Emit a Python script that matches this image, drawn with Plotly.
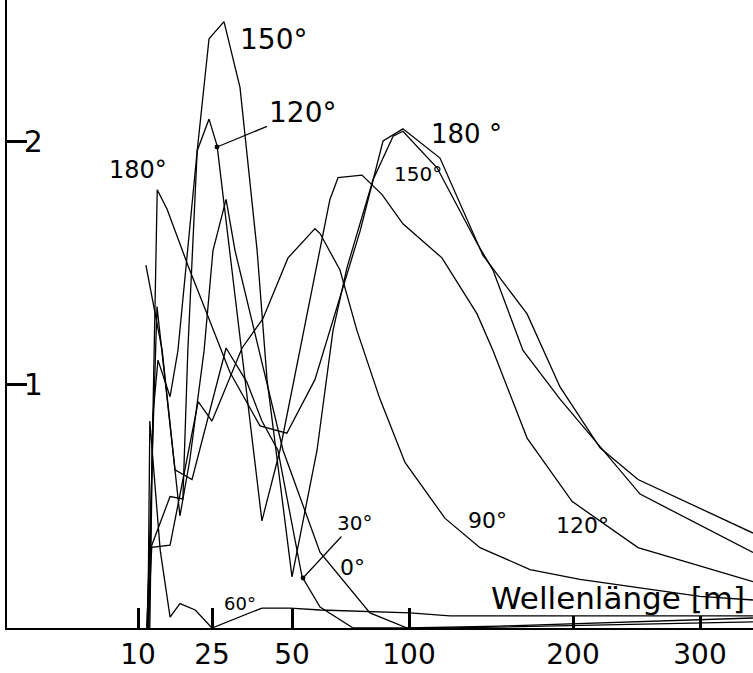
import numpy as np
import plotly.graph_objects as go

# ---- hand-drawn, non-uniform wavelength scale (labelled ticks) ----
TICK_WL = [10, 25, 50, 100, 200, 300]
TICK_TEXT = ["10", "25", "50", "100", "200", "300"]
TICK_POS = [131, 205, 285, 402, 566, 693]   # axis position of each labelled wavelength
TALL_TICKS = [10, 25, 50, 100]

Y_TICKS = [1, 2]
Y_TEXT = ["1", "2"]

# ---- curves: wavelength [m] and response value, one per heading angle ----
WL_180 = [12.2, 13.9, 15.9, 20.1, 24.0, 30.6, 40.0, 48.4, 59.8, 69.2, 79.1, 88.9, 97.4, 118.9, 145.1, 172.0, 192.1, 221.3, 251.2, 341.7]
V_180 = [0, 1.80, 1.72, 1.49, 1.29, 1.05, 0.83, 0.80, 1.02, 1.32, 1.63, 2.00, 2.05, 1.93, 1.53, 1.29, 0.99, 0.74, 0.61, 0.39]

WL_150 = [12.0, 12.8, 16.5, 19.1, 20.1, 22.0, 24.4, 28.75, 33.75, 39.1, 42.2, 45.3, 50.0, 60.7, 67.5, 73.5, 84.6, 93.2, 97.4, 117.1, 141.5, 151.2, 169.5, 192.1, 252.8, 341.7]
V_150 = [0, 0.34, 0.54, 0.53, 1.14, 1.96, 2.42, 2.49, 2.22, 1.55, 1.02, 0.70, 0.21, 0.73, 1.22, 1.48, 1.84, 2.02, 2.04, 1.89, 1.58, 1.47, 1.14, 0.94, 0.55, 0.31]

WL_120 = [12.4, 13.0, 14.05, 16.5, 18.1, 22.0, 24.4, 26.6, 40.6, 46.25, 66.2, 69.7, 79.9, 88.5, 97.4, 120.1, 141.5, 151.2, 172.0, 199.4, 251.2, 341.7]
V_120 = [0, 0.87, 1.10, 0.95, 1.14, 1.96, 2.09, 1.98, 0.44, 0.73, 1.76, 1.85, 1.86, 1.78, 1.66, 1.52, 1.29, 1.14, 0.78, 0.52, 0.33, 0.19]

WL_90 = [11.8, 12.4, 16.5, 22.2, 25.0, 34.4, 40.9, 48.75, 59.8, 62.0, 70.5, 77.8, 87.6, 98.3, 122.0, 143.3, 173.8, 205.5, 300, 341.7]
V_90 = [0, 0.33, 0.34, 0.93, 0.85, 1.15, 1.27, 1.52, 1.64, 1.62, 1.47, 1.22, 0.94, 0.68, 0.45, 0.33, 0.24, 0.20, 0.13, 0.115]

WL_60 = [12.0, 12.4, 14.5, 16.5, 18.5, 21.6, 25.0, 40.6, 49.4, 62.0, 100.6, 125.0, 341.7]
V_60 = [0, 0.85, 0.32, 0.045, 0.10, 0.074, 0, 0.082, 0.082, 0.074, 0.062, 0.05, 0.05]

WL_30 = [11.8, 13.85, 17.5, 20.95, 29.4, 35.9, 40.6, 45.6, 54.3, 62.0, 76.1, 125.0, 341.7]
V_30 = [0, 1.32, 0.65, 0.61, 1.15, 1.01, 0.85, 0.73, 0.21, 0.086, 0, 0, 0.025]

WL_0 = [11.6, 14.9, 18.5, 20.5, 23.4, 25.3, 29.4, 32.2, 47.2, 62.0, 83.3, 99.2, 155.5, 341.7]
V_0 = [1.49, 1.14, 0.46, 0.69, 1.14, 1.55, 1.76, 1.55, 0.73, 0.31, 0.062, 0, 0.008, 0.041]

SERIES = [("180°", WL_180, V_180), ("150°", WL_150, V_150), ("120°", WL_120, V_120),
          ("90°", WL_90, V_90), ("60°", WL_60, V_60), ("30°", WL_30, V_30), ("0°", WL_0, V_0)]


def to_axis(wl):
    """piecewise-linear hand-drawn scale, extrapolated with the outer segments"""
    wl = np.asarray(wl, float)
    pos = np.interp(wl, TICK_WL, TICK_POS)
    lo_s = (TICK_POS[1] - TICK_POS[0]) / (TICK_WL[1] - TICK_WL[0])
    hi_s = (TICK_POS[-1] - TICK_POS[-2]) / (TICK_WL[-1] - TICK_WL[-2])
    pos = np.where(wl < TICK_WL[0], TICK_POS[0] + (wl - TICK_WL[0]) * lo_s, pos)
    pos = np.where(wl > TICK_WL[-1], TICK_POS[-1] + (wl - TICK_WL[-1]) * hi_s, pos)
    return pos


FONT = "DejaVu Sans"
fig = go.Figure()
for name, wl, v in SERIES:
    fig.add_trace(go.Scatter(x=to_axis(wl), y=v, mode="lines", name=name,
                             line=dict(color="black", width=1.3), showlegend=False,
                             hoverinfo="skip"))
# helper trace for the second (tall-tick) x axis
fig.add_trace(go.Scatter(x=[], y=[], xaxis="x2", showlegend=False))

W, H = 753, 673
ML, MB = 7, 45
PW, PH = W - ML, H - MB


def px(xp, yp):
    return (xp - ML) / PW, (PH - yp) / PH


annos = []
labels = [("150°", 273, 40, 28), ("180°", 138, 170, 24), ("180 °", 466, 134, 26),
          ("150°", 418, 174, 20), ("0°", 352, 567, 22), ("60°", 240, 603, 18),
          ("90°", 487, 520, 22), ("120°", 582, 525, 22)]
for t, xp, yp, s in labels:
    x, y = px(xp, yp)
    annos.append(dict(x=x, y=y, xref="paper", yref="paper", text=t, showarrow=False,
                      xanchor="center", yanchor="middle",
                      font=dict(family=FONT, size=s, color="black")))
# labels with pointer lines
for t, xp, yp, tx, ty, s in [("120°", 302, 112, 217, 147, 28), ("30°", 354, 523, 303, 578, 20)]:
    x, y = px(tx, ty)
    annos.append(dict(x=x, y=y, xref="paper", yref="paper", text=t, showarrow=True,
                      ax=xp - tx, ay=yp - ty, arrowhead=6, arrowsize=1, arrowwidth=1.2,
                      arrowcolor="black", font=dict(family=FONT, size=s, color="black")))
x, y = px(618, 598)
annos.append(dict(x=x, y=y, xref="paper", yref="paper", text="Wellenlänge [m]",
                  xanchor="center", yanchor="middle",
                  showarrow=False, font=dict(family=FONT, size=31, color="black")))

fig.update_layout(
    width=W, height=H, margin=dict(l=ML, r=0, t=0, b=MB),
    paper_bgcolor="white", plot_bgcolor="white",
    xaxis=dict(range=[0, PW], tickmode="array", tickvals=list(to_axis(TICK_WL)),
               ticktext=TICK_TEXT, ticks="inside", ticklen=12, tickwidth=2.5,
               tickcolor="black", showline=True, linecolor="black", linewidth=2,
               showgrid=False, zeroline=False,
               tickfont=dict(family=FONT, size=28, color="black")),
    xaxis2=dict(overlaying="x", matches="x", range=[0, PW], tickmode="array",
                tickvals=list(to_axis(TALL_TICKS)), ticks="inside", ticklen=20,
                tickwidth=3, tickcolor="black", showticklabels=False, showline=False,
                showgrid=False, zeroline=False, side="bottom", anchor="y"),
    yaxis=dict(range=[0, PH / 243.5], tickmode="array", tickvals=Y_TICKS, ticktext=Y_TEXT,
               ticks="inside", ticklen=20, tickwidth=2.5, tickcolor="black",
               ticklabelposition="inside", showline=True, linecolor="black", linewidth=1.5,
               showgrid=False, zeroline=False,
               tickfont=dict(family=FONT, size=30, color="black")),
    annotations=annos,
)

fig.write_html("out.html")
